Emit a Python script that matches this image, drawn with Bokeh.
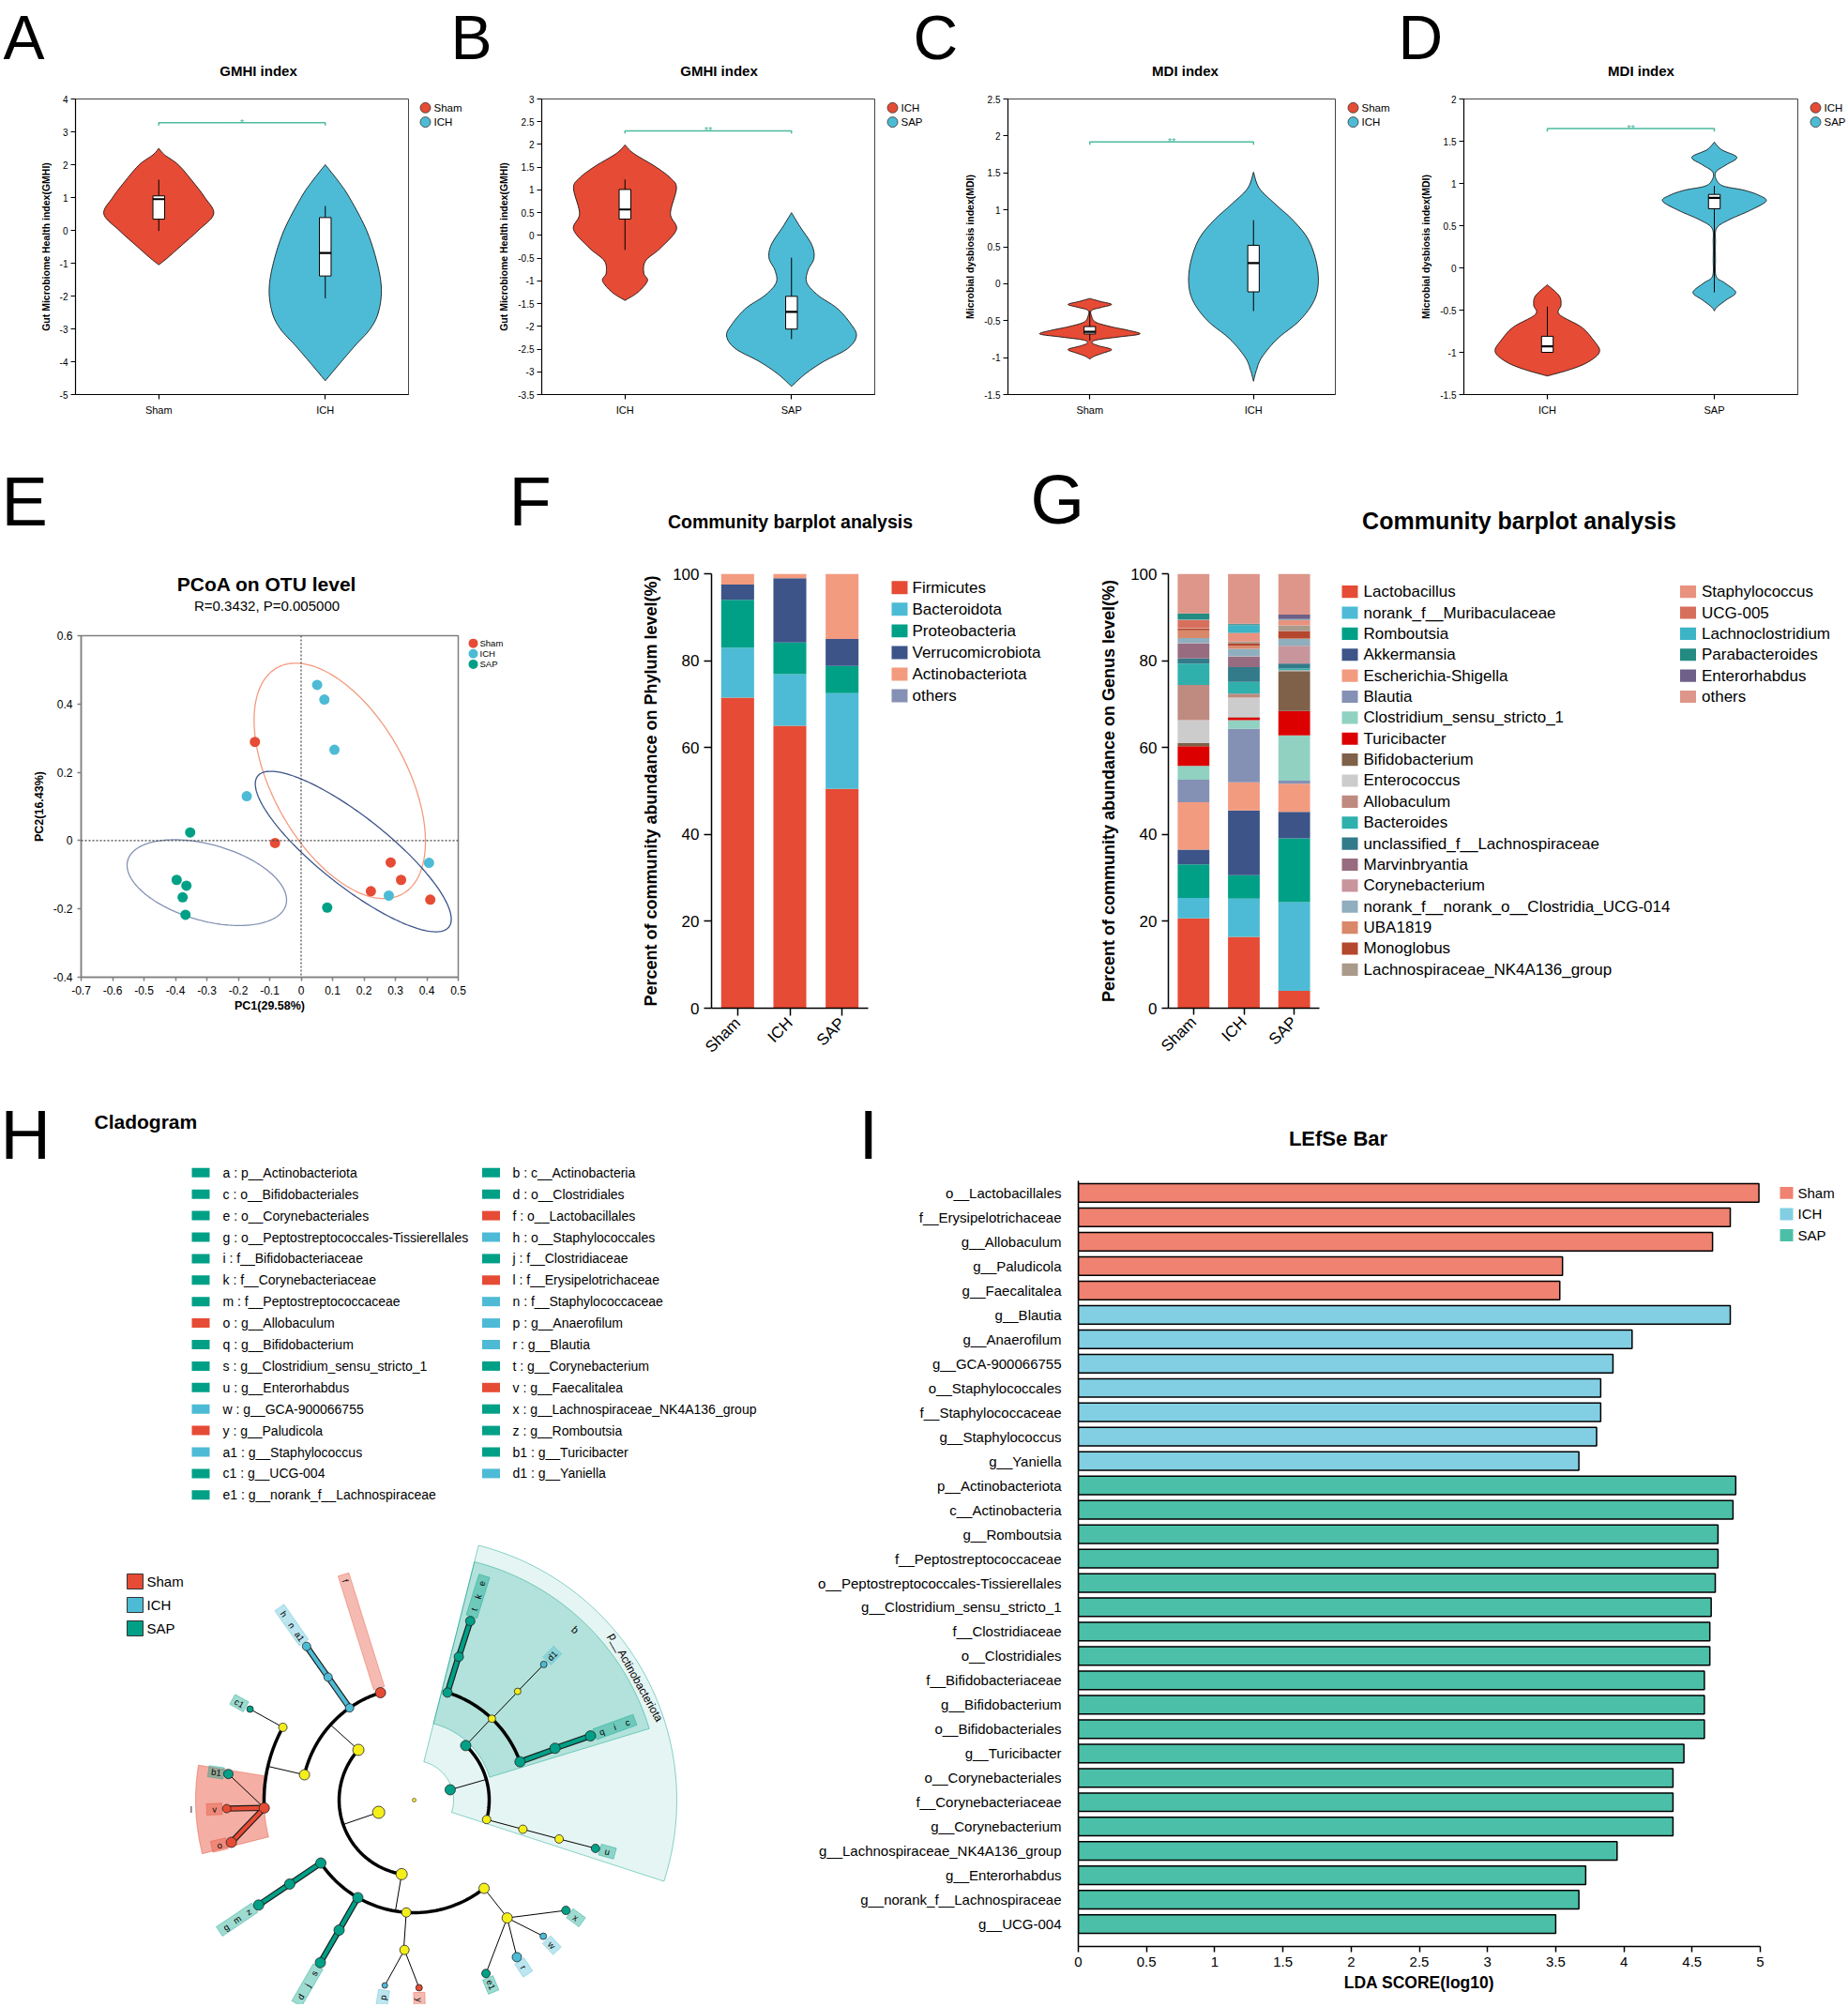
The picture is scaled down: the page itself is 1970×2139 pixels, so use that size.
import math
import numpy as np
from bokeh.plotting import figure
from bokeh.models import Range1d, FactorRange, FixedTicker, Span, ColumnDataSource
from bokeh.layouts import row, column
from bokeh.embed import file_html
from bokeh.resources import INLINE
from bokeh.core.properties import value

FONT = "Liberation Sans"
RED, BLUE, GREEN = "#E64B35", "#4DBBD5", "#00A087"
TEAL = "#4DBB9F"
YELLOW = "#F4EE1B"

# ---------------- A-D : violin data (value, half width in category units) ----------------
A_groups = ["Sham", "ICH"]
A_sham_y = [2.5, 2.3, 2.0, 1.5, 1.0, 0.5, 0.0, -0.5, -0.85, -1.05]
A_sham_w = [0, 0.035, 0.117, 0.202, 0.277, 0.33, 0.238, 0.128, 0.05, 0]
A_ich_y = [2.0, 1.5, 1.0, 0.0, -1.0, -1.8, -2.5, -3.0, -3.5, -4.0, -4.58]
A_ich_w = [0, 0.078, 0.145, 0.248, 0.312, 0.337, 0.319, 0.27, 0.181, 0.096, 0]
A_sham_box = [-0.02, 0.34, 0.95, 1.05, 1.54]   # whisker low, q1, median, q3, whisker high
A_ich_box = [-2.07, -1.39, -0.69, 0.39, 0.74]
A_sig = [3.28, "*"]

B_groups = ["ICH", "SAP"]
B_ich_y = [1.99, 1.8, 1.51, 1.25, 1.03, 0.48, 0.13, -0.28, -0.56, -0.83, -1.0, -1.25, -1.43]
B_ich_w = [0, 0.053, 0.184, 0.277, 0.309, 0.273, 0.309, 0.213, 0.124, 0.113, 0.135, 0.078, 0]
B_sap_y = [0.5, 0.2, -0.2, -0.5, -0.77, -1.04, -1.32, -1.6, -1.94, -2.21, -2.49, -2.77, -3.04, -3.32]
B_sap_w = [0, 0.05, 0.121, 0.135, 0.099, 0.092, 0.16, 0.273, 0.355, 0.39, 0.337, 0.195, 0.085, 0]
B_ich_box = [-0.32, 0.36, 0.57, 1.01, 1.23]
B_sap_box = [-2.28, -2.06, -1.68, -1.34, -0.49]
B_sig = [2.3, "**"]

C_groups = ["Sham", "ICH"]
C_sham_y = [-0.2, -0.24, -0.28, -0.32, -0.36, -0.44, -0.52, -0.58, -0.63, -0.68, -0.72, -0.76,
            -0.8, -0.84, -0.89, -0.94, -0.98, -1.02]
C_sham_w = [0, 0.065, 0.133, 0.072, 0.011, 0.011, 0.036, 0.126, 0.234, 0.306, 0.18, 0.043,
            0.014, 0.054, 0.133, 0.079, 0.029, 0]
C_ich_y = [1.51, 1.29, 1.07, 0.86, 0.61, 0.31, 0.01, -0.24, -0.5, -0.75, -1.0, -1.17, -1.32]
C_ich_w = [0, 0.036, 0.137, 0.241, 0.332, 0.382, 0.396, 0.368, 0.281, 0.144, 0.05, 0.018, 0]
C_sham_box = [-0.77, -0.68, -0.65, -0.58, -0.37]
C_ich_box = [-0.37, -0.11, 0.28, 0.52, 0.86]
C_sig = [1.92, "**"]

D_groups = ["ICH", "SAP"]
D_ich_y = [-0.2, -0.33, -0.44, -0.55, -0.7, -0.85, -0.99, -1.11, -1.2, -1.28]
D_ich_w = [0, 0.071, 0.082, 0.071, 0.203, 0.274, 0.313, 0.249, 0.142, 0]
D_sap_y = [1.49, 1.4, 1.31, 1.22, 1.14, 1.05, 0.97, 0.92, 0.86, 0.79, 0.68, 0.57, 0.47, 0.3,
           0.1, -0.1, -0.18, -0.29, -0.38, -0.46, -0.51]
D_sap_w = [0, 0.043, 0.135, 0.071, 0.011, 0.011, 0.053, 0.178, 0.267, 0.31, 0.214, 0.089,
           0.014, 0.007, 0.007, 0.011, 0.064, 0.128, 0.071, 0.018, 0]
D_ich_box = [-1.0, -1.0, -0.93, -0.81, -0.46]
D_sap_box = [-0.29, 0.70, 0.83, 0.87, 0.97]
D_sig = [1.65, "**"]

# ---------------- E : PCoA ----------------
E_sham_x = [-0.147, -0.083, 0.285, 0.318, 0.222, 0.411]
E_sham_y = [0.289, -0.007, -0.064, -0.115, -0.148, -0.173]
E_ich_x = [0.051, 0.074, 0.106, -0.173, 0.407, 0.279]
E_ich_y = [0.456, 0.413, 0.266, 0.130, -0.065, -0.161]
E_sap_x = [-0.353, -0.396, -0.365, -0.377, -0.368, 0.083]
E_sap_y = [0.024, -0.115, -0.132, -0.166, -0.217, -0.196]
E_ell_cx = [0.123, 0.166, -0.30]
E_ell_cy = [0.175, -0.032, -0.123]
E_ell_a = [0.387, 0.376, 0.26]
E_ell_b = [0.208, 0.105, 0.112]
E_ell_deg = [-57.3, -35.6, -14.0]
E_ell_col = ["#F39B7F", "#3C5488", "#8491B4"]

# ---------------- F : phylum barplot ----------------
F_groups = ["Sham", "ICH", "SAP"]
F_taxa = ["Firmicutes", "Bacteroidota", "Proteobacteria", "Verrucomicrobiota", "Actinobacteriota", "others"]
F_sham = [71.5, 11.5, 11.0, 3.5, 2.5, 0.0]
F_ich = [65.0, 11.9, 7.3, 14.8, 1.0, 0.0]
F_sap = [50.5, 22.0, 6.3, 6.2, 15.0, 0.0]
F_colors = ["#E64B35", "#4DBBD5", "#00A087", "#3C5488", "#F39B7F", "#8491B4"]

# ---------------- G : genus barplot ----------------
G_taxa = ["Lactobacillus", "norank_f__Muribaculaceae", "Romboutsia", "Akkermansia",
          "Escherichia-Shigella", "Blautia", "Clostridium_sensu_stricto_1", "Turicibacter",
          "Bifidobacterium", "Enterococcus", "Allobaculum", "Bacteroides",
          "unclassified_f__Lachnospiraceae", "Marvinbryantia", "Corynebacterium",
          "norank_f__norank_o__Clostridia_UCG-014", "UBA1819", "Monoglobus",
          "Lachnospiraceae_NK4A136_group", "Staphylococcus", "UCG-005", "Lachnoclostridium",
          "Parabacteroides", "Enterorhabdus", "others"]
G_sham = [20.7, 4.7, 7.7, 3.4, 10.9, 5.2, 3.2, 4.5, 0.7, 5.3, 8.1, 4.9, 1.2, 3.4, 0.1, 1.2,
          1.8, 0.4, 0.1, 0.1, 1.8, 0.1, 1.3, 0.1, 9.1]
G_ich = [16.4, 8.8, 5.4, 14.9, 6.5, 12.3, 2.0, 0.6, 0.1, 4.5, 0.9, 2.7, 3.4, 2.4, 0.1, 1.7,
         0.7, 0.5, 0.5, 1.9, 0.1, 1.8, 0.2, 0.1, 11.5]
G_sap = [4.0, 20.4, 14.7, 6.1, 6.5, 0.7, 10.4, 5.6, 9.2, 0.1, 0.1, 0.4, 1.1, 0.1, 4.0, 1.6,
         0.1, 1.7, 1.3, 1.2, 0.1, 0.1, 0.1, 1.0, 9.4]
G_colors = ["#E64B35", "#4DBBD5", "#00A087", "#3C5488", "#F39B7F", "#8491B4", "#91D1C2",
            "#DC0000", "#7E6148", "#CCCCCC", "#BF8A80", "#2FB0AC", "#337A8A", "#976C80",
            "#C9959D", "#8FAEBE", "#D9886A", "#B4472D", "#A99A8C", "#E9927F", "#D86F5D",
            "#3CB4C5", "#238B81", "#6E6088", "#DE968A"]

# ---------------- H : cladogram ----------------
H_leg1 = ["a : p__Actinobacteriota", "c : o__Bifidobacteriales", "e : o__Corynebacteriales",
          "g : o__Peptostreptococcales-Tissierellales", "i : f__Bifidobacteriaceae",
          "k : f__Corynebacteriaceae", "m : f__Peptostreptococcaceae", "o : g__Allobaculum",
          "q : g__Bifidobacterium", "s : g__Clostridium_sensu_stricto_1", "u : g__Enterorhabdus",
          "w : g__GCA-900066755", "y : g__Paludicola", "a1 : g__Staphylococcus",
          "c1 : g__UCG-004", "e1 : g__norank_f__Lachnospiraceae"]
H_leg1_grp = ["SAP", "SAP", "SAP", "SAP", "SAP", "SAP", "SAP", "Sham", "SAP", "SAP", "SAP",
              "ICH", "Sham", "ICH", "SAP", "SAP"]
H_leg2 = ["b : c__Actinobacteria", "d : o__Clostridiales", "f : o__Lactobacillales",
          "h : o__Staphylococcales", "j : f__Clostridiaceae", "l : f__Erysipelotrichaceae",
          "n : f__Staphylococcaceae", "p : g__Anaerofilum", "r : g__Blautia",
          "t : g__Corynebacterium", "v : g__Faecalitalea", "x : g__Lachnospiraceae_NK4A136_group",
          "z : g__Romboutsia", "b1 : g__Turicibacter", "d1 : g__Yaniella"]
H_leg2_grp = ["SAP", "SAP", "Sham", "ICH", "SAP", "Sham", "ICH", "ICH", "ICH", "SAP", "Sham",
              "SAP", "SAP", "SAP", "ICH"]
H_groups = ["Sham", "ICH", "SAP"]

CL_key = ["PF", "CBac", "OEry", "l", "b1", "v", "o", "FEryc", "c1", "h", "n", "a1", "f",
          "CClo", "g", "m", "z", "d", "j", "s", "OOsc", "FOsc", "p", "y", "OLac", "FLac",
          "x", "w", "r", "e1", "a", "b", "e", "k", "t", "OMic", "FMic", "d1", "c", "i", "q",
          "CCor", "OCor", "FEgg", "u"]
CL_parent = ["root", "PF", "CBac", "OEry", "l", "l", "l", "OEry", "FEryc", "CBac", "h", "n",
             "CBac", "PF", "CClo", "g", "m", "CClo", "d", "j", "CClo", "OOsc", "FOsc", "FOsc",
             "CClo", "OLac", "FLac", "FLac", "FLac", "FLac", "root", "a", "b", "e", "k", "b",
             "OMic", "FMic", "b", "c", "i", "a", "CCor", "OCor", "FEgg"]
CL_level = [1, 2, 3, 4, 5, 5, 5, 4, 5, 3, 4, 5, 3, 2, 3, 4, 5, 3, 4, 5, 3, 4, 5, 5, 3, 4, 5, 5,
            5, 5, 1, 2, 3, 4, 5, 3, 4, 5, 3, 4, 5, 2, 3, 4, 5]
CL_angle = [161, 222, 193, 177, 188, 177.4, 167, 209, 209, 235, 235, 235, 252.6, 99.6, 146,
            146, 146, 120, 120, 120, 94, 93.7, 99, 88.5, 51.6, 51.7, 36, 46.5, 56.8, 67.5, -16,
            -46.6, -72.8, -72.7, -72.6, -46.3, -46.4, -46.3, -19.9, -20.2, -20, 15, 15, 15, 14.9]
CL_group = ["none", "none", "none", "Sham", "SAP", "Sham", "Sham", "none", "SAP", "ICH", "ICH",
            "ICH", "Sham", "none", "SAP", "SAP", "SAP", "SAP", "SAP", "SAP", "none", "none",
            "ICH", "Sham", "none", "none", "SAP", "ICH", "ICH", "SAP", "SAP", "SAP", "SAP", "SAP",
            "SAP", "none", "none", "ICH", "SAP", "SAP", "SAP", "none", "none", "none", "SAP"]
CL_size = [13, 12, 11, 11, 10, 9, 11, 9, 7, 9, 9, 9, 11, 12, 11, 11, 11, 11, 11, 11, 10, 10, 6,
           7, 11, 11, 9, 7, 10, 9, 11, 11, 10, 10, 10, 8, 7, 7, 11, 11, 11, 9, 9, 9, 9]

# ---------------- I : LEfSe ----------------
I_names = ["o__Lactobacillales", "f__Erysipelotrichaceae", "g__Allobaculum", "g__Paludicola",
           "g__Faecalitalea", "g__Blautia", "g__Anaerofilum", "g__GCA-900066755",
           "o__Staphylococcales", "f__Staphylococcaceae", "g__Staphylococcus", "g__Yaniella",
           "p__Actinobacteriota", "c__Actinobacteria", "g__Romboutsia", "f__Peptostreptococcaceae",
           "o__Peptostreptococcales-Tissierellales", "g__Clostridium_sensu_stricto_1",
           "f__Clostridiaceae", "o__Clostridiales", "f__Bifidobacteriaceae", "g__Bifidobacterium",
           "o__Bifidobacteriales", "g__Turicibacter", "o__Corynebacteriales",
           "f__Corynebacteriaceae", "g__Corynebacterium", "g__Lachnospiraceae_NK4A136_group",
           "g__Enterorhabdus", "g__norank_f__Lachnospiraceae", "g__UCG-004"]
I_scores = [4.99, 4.78, 4.65, 3.55, 3.53, 4.78, 4.06, 3.92, 3.83, 3.83, 3.80, 3.67, 4.82, 4.80,
            4.69, 4.69, 4.67, 4.64, 4.63, 4.63, 4.59, 4.59, 4.59, 4.44, 4.36, 4.36, 4.36, 3.95,
            3.72, 3.67, 3.50]
I_groups = ["Sham"] * 5 + ["ICH"] * 7 + ["SAP"] * 19
I_colors = {"Sham": "#EF8270", "ICH": "#82CFE3", "SAP": "#4BBFA8"}

GROUP_COL = {"Sham": RED, "ICH": BLUE, "SAP": GREEN}


# ======================= helpers =======================
def catmull(ys, ws, n=10):
    pts = np.column_stack([ys, ws]).astype(float)
    P = np.vstack([pts[:1], pts, pts[-1:]])
    out = []
    for i in range(1, len(P) - 2):
        p0, p1, p2, p3 = P[i - 1], P[i], P[i + 1], P[i + 2]
        for t in np.linspace(0, 1, n, endpoint=False):
            out.append(0.5 * (2 * p1 + (-p0 + p2) * t + (2 * p0 - 5 * p1 + 4 * p2 - p3) * t * t
                              + (-p0 + 3 * p1 - 3 * p2 + p3) * t ** 3))
    out.append(pts[-1])
    out = np.array(out)
    out[:, 1] = np.clip(out[:, 1], 0, None)
    return out[:, 0], out[:, 1]


def chart_fig(x0, x1, y0, y1, frame, **kw):
    L, R, T_, B = frame
    p = figure(width=int(x1 - x0), height=int(y1 - y0),
               min_border_left=int(round(L - x0)), min_border_right=int(round(x1 - R)),
               min_border_top=int(round(T_ - y0)), min_border_bottom=int(round(y1 - B)),
               output_backend="svg", toolbar_location=None, **kw)
    p.xgrid.visible = False
    p.ygrid.visible = False
    p.border_fill_color = "white"
    p.background_fill_color = "white"
    return p


def aux_fig(x0, x1, y0, y1):
    p = figure(width=int(x1 - x0), height=int(y1 - y0), x_range=Range1d(x0, x1),
               y_range=Range1d(y1, y0), min_border=0, x_axis_location=None,
               y_axis_location=None, output_backend="svg", toolbar_location=None)
    p.xgrid.visible = False
    p.ygrid.visible = False
    p.outline_line_color = None
    p.border_fill_color = "white"
    p.background_fill_color = "white"
    return p


def T(p, x, y, text, size, bold=False, align="left", baseline="middle", angle=0.0, color="black"):
    p.text(x=[x], y=[y], text=[text], angle=[angle], text_font=value(FONT),
           text_font_size=value(f"{size}px"), text_font_style="bold" if bold else "normal",
           text_align=align, text_baseline=baseline, text_color=color)


def letter(p, x, ink_top, text, size=72):
    # vertically centred panel letter; the capital's top lies 0.3695 em above the middle
    T(p, x, ink_top + 0.3695 * size, text, size)


def style_axes(p, tick_size, label_size, color="black", lw=1.2, tick_out=5):
    for ax in list(p.xaxis) + list(p.yaxis):
        ax.axis_line_color = color
        ax.axis_line_width = lw
        ax.major_tick_line_color = color
        ax.major_tick_line_width = lw
        ax.major_tick_in = 0
        ax.major_tick_out = tick_out
        ax.minor_tick_line_color = None
        ax.major_label_text_font = FONT
        ax.major_label_text_font_size = f"{tick_size}px"
        ax.major_label_text_color = "black"
        ax.axis_label_text_font = FONT
        ax.axis_label_text_font_size = f"{label_size}px"
        ax.axis_label_text_font_style = "bold"
        ax.axis_label_text_color = "black"


def fmt(v):
    return "0" if abs(v) < 1e-9 else f"{v:g}"


# ======================= Row 1 : A-D =======================
strip1 = aux_fig(0, 1970, 0, 97)
violin_specs = [
    dict(cx=(0, 445), leg=(445, 500), frame=(80, 435, 105, 420), yr=(-5, 4), step=1.0, groups=A_groups,
         ys=[A_sham_y, A_ich_y], ws=[A_sham_w, A_ich_w], boxes=[A_sham_box, A_ich_box],
         sig=A_sig, drop=0.09, title="GMHI index", tx=275, ylabel="Gut Microbiome Health index(GMHI)",
         letter="A", lx=3, legx=453),
    dict(cx=(500, 942), leg=(942, 1000), frame=(577, 932, 105, 420), yr=(-3.5, 3), step=0.5, groups=B_groups,
         ys=[B_ich_y, B_sap_y], ws=[B_ich_w, B_sap_w], boxes=[B_ich_box, B_sap_box],
         sig=B_sig, drop=0.06, title="GMHI index", tx=766, ylabel="Gut Microbiome Health index(GMHI)",
         letter="B", lx=480, legx=951),
    dict(cx=(1000, 1433), leg=(1433, 1500), frame=(1074, 1423, 105, 420), yr=(-1.5, 2.5), step=0.5,
         groups=C_groups, ys=[C_sham_y, C_ich_y], ws=[C_sham_w, C_ich_w], boxes=[C_sham_box, C_ich_box],
         sig=C_sig, drop=0.04, title="MDI index", tx=1263, ylabel="Microbial dysbiosis index(MDI)",
         letter="C", lx=973, legx=1442),
    dict(cx=(1500, 1926), leg=(1926, 1970), frame=(1560, 1916, 105, 420), yr=(-1.5, 2), step=0.5,
         groups=D_groups, ys=[D_ich_y, D_sap_y], ws=[D_ich_w, D_sap_w], boxes=[D_ich_box, D_sap_box],
         sig=D_sig, drop=0.035, title="MDI index", tx=1749, ylabel="Microbial dysbiosis index(MDI)",
         letter="D", lx=1490, legx=1935),
]

row1_figs = []
for s in violin_specs:
    p = chart_fig(s["cx"][0], s["cx"][1], 97, 468, s["frame"], x_range=Range1d(0.5, 2.5),
                  y_range=Range1d(*s["yr"]))
    cols = [RED, BLUE]
    for i in range(2):
        c = i + 1
        yy, ww = catmull(s["ys"][i], s["ws"][i])
        p.patch(np.concatenate([c + ww, (c - ww)[::-1]]), np.concatenate([yy, yy[::-1]]),
                fill_color=cols[i], line_color="black", line_width=0.8)
        wl, q1, med, q3, wh = s["boxes"][i]
        p.segment(x0=[c, c], y0=[wl, q3], x1=[c, c], y1=[q1, wh], line_color="black", line_width=1)
        p.quad(left=[c - 0.035], right=[c + 0.035], bottom=[q1], top=[q3], fill_color="white",
               line_color="black", line_width=1)
        p.segment(x0=[c - 0.035], y0=[med], x1=[c + 0.035], y1=[med], line_color="black", line_width=2.2)
    lvl, star = s["sig"]
    p.line([1, 1, 2, 2], [lvl - s["drop"], lvl, lvl, lvl - s["drop"]], line_color=TEAL, line_width=1.5)
    p.text(x=[1.5], y=[lvl], text=[star], text_font=value(FONT), text_font_size="11px",
           text_color=TEAL, text_align="center", text_baseline="middle")
    lo, hi = s["yr"]
    nt = int(round((hi - lo) / s["step"]))
    yt = [round(lo + k * s["step"], 2) for k in range(nt + 1)]
    p.yaxis.ticker = FixedTicker(ticks=yt)
    p.yaxis.major_label_overrides = {v: fmt(v) for v in yt}
    p.xaxis.ticker = FixedTicker(ticks=[1, 2])
    p.xaxis.major_label_overrides = {1: s["groups"][0], 2: s["groups"][1]}
    p.yaxis.axis_label = s["ylabel"]
    style_axes(p, 10, 10.5, lw=1.2, tick_out=5)
    p.xaxis.major_label_text_font_size = "11px"
    p.yaxis.axis_label_standoff = 6
    p.yaxis.major_label_standoff = 3
    p.outline_line_color = "#444444"
    p.outline_line_width = 1
    T(strip1, s["tx"], 75, s["title"], 15, bold=True, align="center")
    letter(strip1, s["lx"], 15.6, s["letter"], 66)
    lg = aux_fig(s["leg"][0], s["leg"][1], 97, 468)
    for i in range(2):
        lg.scatter([s["legx"]], [108 + 18 * i], size=11, fill_color=cols[i], line_color="#333333",
                   line_width=0.8)
        T(lg, s["legx"] + 9, 108 + 18 * i, s["groups"][i], 11.5)
    row1_figs += [p, lg]

row1 = column(strip1, row(*row1_figs))

# ======================= Row 2 strip (letters E, F, G and titles of F, G) =======================
strip2 = aux_fig(0, 1970, 468, 594)
letter(strip2, 1, 507, "E", 74)
letter(strip2, 542, 507, "F", 74)
letter(strip2, 1098, 505, "G", 74)
T(strip2, 842, 555, "Community barplot analysis", 19.5, bold=True, align="center")
T(strip2, 1619, 554, "Community barplot analysis", 25, bold=True, align="center")

# ======================= E =======================
frE = (86, 488, 677, 1041)
topE = aux_fig(0, 545, 594, 669)
T(topE, 284, 622, "PCoA on OTU level", 21, bold=True, align="center")
T(topE, 284, 645, "R=0.3432, P=0.005000", 15, align="center")
pE = chart_fig(0, 498, 669, 1160, frE, x_range=Range1d(-0.7, 0.5), y_range=Range1d(-0.4, 0.6))
for k in range(3):
    t = np.linspace(0, 2 * np.pi, 240)
    th = math.radians(E_ell_deg[k])
    ex = E_ell_cx[k] + E_ell_a[k] * np.cos(t) * math.cos(th) - E_ell_b[k] * np.sin(t) * math.sin(th)
    ey = E_ell_cy[k] + E_ell_a[k] * np.cos(t) * math.sin(th) + E_ell_b[k] * np.sin(t) * math.cos(th)
    pE.line(ex, ey, line_color=E_ell_col[k], line_width=1.3)
pE.add_layout(Span(location=0, dimension="height", line_dash="2 2", line_color="#444444", line_width=1.2))
pE.add_layout(Span(location=0, dimension="width", line_dash="2 2", line_color="#444444", line_width=1.2))
for xs, ys, col in [(E_sham_x, E_sham_y, RED), (E_ich_x, E_ich_y, BLUE), (E_sap_x, E_sap_y, GREEN)]:
    pE.scatter(xs, ys, size=11, fill_color=col, line_color=None)
xt = [round(-0.7 + 0.1 * k, 1) for k in range(13)]
ytE = [round(-0.4 + 0.2 * k, 1) for k in range(6)]
pE.xaxis.ticker = FixedTicker(ticks=xt)
pE.xaxis.major_label_overrides = {v: fmt(v) for v in xt}
pE.yaxis.ticker = FixedTicker(ticks=ytE)
pE.yaxis.major_label_overrides = {v: fmt(v) for v in ytE}
pE.xaxis.axis_label = "PC1(29.58%)"
pE.yaxis.axis_label = "PC2(16.43%)"
style_axes(pE, 12, 12.5, color="#7F7F7F", lw=1.5, tick_out=4)
pE.xaxis.axis_label_standoff = 2
pE.outline_line_color = "#7F7F7F"
pE.outline_line_width = 1.5
legE = aux_fig(498, 545, 669, 1160)
for k, (g, col) in enumerate(zip(H_groups, [RED, BLUE, GREEN])):
    legE.scatter([504], [680 + 15 * k], size=10, fill_color=col, line_color=None)
    T(legE, 511, 680 + 15 * k, g, 9.5)
colE = column(topE, row(pE, legE))

# ======================= F =======================
frF = (758, 925, 606, 1080)
pF = chart_fig(545, 935, 594, 1160, frF, x_range=FactorRange(factors=F_groups), y_range=Range1d(0, 100))
srcF = ColumnDataSource(dict(group=F_groups, **{t: [F_sham[i], F_ich[i], F_sap[i]] for i, t in enumerate(F_taxa)}))
pF.vbar_stack(F_taxa, x="group", width=0.63, color=F_colors, source=srcF, line_width=0)
pF.yaxis.ticker = FixedTicker(ticks=[0, 20, 40, 60, 80, 100])
pF.yaxis.axis_label = "Percent of community abundance on Phylum level(%)"
style_axes(pF, 17, 18, lw=1.5, tick_out=8)
pF.xaxis.major_label_orientation = math.pi / 4
pF.yaxis.axis_label_standoff = 10
pF.outline_line_color = None
legF = aux_fig(935, 1120, 594, 1160)
yF = [612 + 28.2 * i for i in range(len(F_taxa))]
legF.rect(x=[958.5] * len(yF), y=yF, width=17, height=17, fill_color=F_colors, line_color=None)
for i, t in enumerate(F_taxa):
    T(legF, 972, yF[i], t, 17)

# ======================= G =======================
frG = (1245, 1406, 611, 1073.5)
pG = chart_fig(1120, 1416, 594, 1160, frG, x_range=FactorRange(factors=F_groups), y_range=Range1d(0, 100))
srcG = ColumnDataSource(dict(group=F_groups, **{t: [G_sham[i], G_ich[i], G_sap[i]] for i, t in enumerate(G_taxa)}))
pG.vbar_stack(G_taxa, x="group", width=0.63, color=G_colors, source=srcG, line_width=0)
pG.yaxis.ticker = FixedTicker(ticks=[0, 20, 40, 60, 80, 100])
pG.yaxis.axis_label = "Percent of community abundance on Genus level(%)"
style_axes(pG, 17, 18, lw=1.5, tick_out=7)
pG.xaxis.major_label_orientation = math.pi / 4
pG.yaxis.axis_label_standoff = 10
pG.outline_line_color = None
legG = aux_fig(1416, 1970, 594, 1160)
gx = [1438.5 if i < 19 else 1799 for i in range(len(G_taxa))]
gyv = [617.4 + 27.35 * (i if i < 19 else i - 19) for i in range(len(G_taxa))]
legG.rect(x=gx, y=gyv, width=17, height=16, fill_color=G_colors, line_color=None)
for i, t in enumerate(G_taxa):
    T(legG, gx[i] + 14.5, gyv[i], t, 17)

row2 = column(strip2, row(colE, pF, legF, pG, legG))

# ======================= H =======================
pH = aux_fig(0, 860, 1160, 2136)
letter(pH, 0, 1182, "H", 74)
T(pH, 100, 1195, "Cladogram", 21, bold=True)

for col_items, col_grp, rx, tx in [(H_leg1, H_leg1_grp, 213.5, 237), (H_leg2, H_leg2_grp, 523, 546)]:
    yy = [1249.3 + 22.9 * k for k in range(len(col_items))]
    pH.rect(x=[rx] * len(yy), y=yy, width=19, height=10, fill_color=[GROUP_COL[g] for g in col_grp],
            line_color=None)
    pH.text(x=[tx] * len(yy), y=yy, text=col_items, text_font=value(FONT), text_font_size="14px",
            text_baseline="middle", text_align="left")

gy = [1685, 1710, 1735]
pH.rect(x=[143.5] * 3, y=gy, width=17, height=16, fill_color=[GROUP_COL[g] for g in H_groups],
        line_color="#333333", line_width=1)
pH.text(x=[156] * 3, y=gy, text=H_groups, text_font=value(FONT), text_font_size="15px",
        text_baseline="middle", text_align="left")

CX, CY = 441.0, 1918.0
node = {k: dict(parent=CL_parent[i], level=CL_level[i], angle=CL_angle[i], group=CL_group[i],
                size=CL_size[i]) for i, k in enumerate(CL_key)}
children = {}
for k in CL_key:
    children.setdefault(node[k]["parent"], []).append(k)


def pol(r, deg):
    th = math.radians(deg)
    return CX + r * math.cos(th), CY + r * math.sin(th)


def arc_pts(r, a0, a1, n=60):
    angs = np.linspace(a0, a1, n)
    return [pol(r, a)[0] for a in angs], [pol(r, a)[1] for a in angs]


def sector_poly(r0, r1, a0, a1):
    xo, yo = arc_pts(r1, a0, a1)
    xi, yi = arc_pts(r0, a1, a0)
    return xo + xi, yo + yi


def descendants(k):
    out = []
    for c in children.get(k, []):
        out.append(c)
        out += descendants(c)
    return out


sec_inner = {1: 42, 2: 84, 4: 160}
sec_outer = {1: 280, 2: 262, 4: 233}
sec_pad = {1: 3.0, 2: 3.0, 4: 1.2}
sec_alpha = {1: 0.10, 2: 0.22, 4: 0.45}
for k in CL_key:
    nd = node[k]
    if nd["group"] != "none" and len(children.get(k, [])) > 1:
        angs = [node[d]["angle"] for d in descendants(k)]
        lv = nd["level"]
        xs, ys = sector_poly(sec_inner[lv], sec_outer[lv], min(angs) - sec_pad[lv], max(angs) + sec_pad[lv])
        col = GROUP_COL[nd["group"]]
        pH.patch(xs, ys, fill_color=col, fill_alpha=sec_alpha[lv], line_color=col, line_alpha=0.45,
                 line_width=1)

band_xs, band_ys, band_cols = [], [], []
lab_x, lab_y, lab_t, lab_a = [], [], [], []


def rot_for(deg):
    d = ((deg + 180) % 360) - 180
    if d > 90 or d < -90:
        d = d - 180
    return -math.radians(d)


def add_band(deg, r0, r1, group, hw=6.0):
    th = math.radians(deg)
    tx, ty = -math.sin(th), math.cos(th)
    p0 = pol(r0, deg)
    p1 = pol(r1, deg)
    band_xs.append([p0[0] + hw * tx, p1[0] + hw * tx, p1[0] - hw * tx, p0[0] - hw * tx])
    band_ys.append([p0[1] + hw * ty, p1[1] + hw * ty, p1[1] - hw * ty, p0[1] - hw * ty])
    band_cols.append(GROUP_COL[group])


def add_lab(text, r, deg):
    x, y = pol(r, deg)
    lab_x.append(x)
    lab_y.append(y)
    lab_t.append(text)
    lab_a.append(rot_for(deg))


for k in CL_key:
    nd = node[k]
    if nd["group"] == "none":
        continue
    kids = children.get(k, [])
    if nd["level"] == 5:
        chain = [k]
        cur = k
        while True:
            par = node[cur]["parent"]
            if par == "root" or node[par]["group"] != nd["group"] or len(children.get(par, [])) != 1:
                break
            chain.append(par)
            cur = par
        add_band(nd["angle"], 205, 207 + 14.5 * len(chain), nd["group"])
        for j, ck in enumerate(chain):
            add_lab(ck, 213 + 14.5 * j, nd["angle"])
    elif len(kids) == 0:
        add_band(nd["angle"], 40 * nd["level"] + 5, 252, nd["group"])
        add_lab(k, 245, nd["angle"])

pH.patches(band_xs, band_ys, fill_color=band_cols, fill_alpha=0.38, line_color=band_cols,
           line_alpha=0.5, line_width=0.8)

thin_x, thin_y, arc_x, arc_y = [], [], [], []
col_lines = {"Sham": ([], []), "ICH": ([], []), "SAP": ([], [])}
for par, kids in children.items():
    if par == "root":
        continue
    P = node[par]
    rp = 40 * P["level"]
    if P["level"] <= 3:
        rc = rp + 40
        a = pol(rp, P["angle"])
        b = pol(rc, P["angle"])
        same = P["group"] != "none" and all(node[c]["group"] == P["group"] for c in kids)
        if same:
            col_lines[P["group"]][0].append([a[0], b[0]])
            col_lines[P["group"]][1].append([a[1], b[1]])
        else:
            thin_x.append([a[0], b[0]])
            thin_y.append([a[1], b[1]])
        angs = [node[c]["angle"] for c in kids] + [P["angle"]]
        if max(angs) - min(angs) > 0.5:
            xs, ys = arc_pts(rc, min(angs), max(angs))
            arc_x.append(xs)
            arc_y.append(ys)
    else:
        for c in kids:
            C = node[c]
            a = pol(rp, P["angle"])
            b = pol(40 * C["level"], C["angle"])
            if P["group"] != "none" and C["group"] == P["group"]:
                col_lines[P["group"]][0].append([a[0], b[0]])
                col_lines[P["group"]][1].append([a[1], b[1]])
            else:
                thin_x.append([a[0], b[0]])
                thin_y.append([a[1], b[1]])

pH.multi_line(thin_x, thin_y, line_color="black", line_width=1)
pH.multi_line(arc_x, arc_y, line_color="black", line_width=3.5)
for g, (xs, ys) in col_lines.items():
    if xs:
        pH.multi_line(xs, ys, line_color="#1a1a1a", line_width=6.5)
        pH.multi_line(xs, ys, line_color=GROUP_COL[g], line_width=4.2)

nx = [pol(40 * node[k]["level"], node[k]["angle"])[0] for k in CL_key]
ny = [pol(40 * node[k]["level"], node[k]["angle"])[1] for k in CL_key]
ncol = [GROUP_COL[node[k]["group"]] if node[k]["group"] != "none" else YELLOW for k in CL_key]
pH.scatter(nx, ny, size=CL_size, fill_color=ncol, line_color="#222222", line_width=0.8)
pH.scatter([CX], [CY], size=4, fill_color=YELLOW, line_color="#555555", line_width=0.8)

pH.text(x=lab_x, y=lab_y, text=lab_t, angle=lab_a, text_font=value(FONT), text_font_size="9.5px",
        text_align="center", text_baseline="middle")
lx_, ly_ = pol(238, 177.5)
T(pH, lx_, ly_, "l", 9.5, align="center")
bx, by = pol(250, -46.6)
T(pH, bx, by, "b", 11, align="center", angle=rot_for(-46.6) - math.pi / 2)
ax_, ay_ = pol(270, -29)
T(pH, ax_, ay_, "p__Actinobacteriota", 12, align="center", angle=-math.radians(61))

# ======================= I =======================
frI = (1149, 1876, 1258, 2074)
topI = aux_fig(860, 1970, 1160, 1250)
letter(topI, 915, 1182, "I", 74)
T(topI, 1426, 1213, "LEfSe Bar", 22, bold=True, align="center")
pI = chart_fig(860, 1886, 1250, 2136, frI, x_range=Range1d(0, 5), y_range=Range1d(31.42, 0))
ypos = [i + 0.5 for i in range(len(I_names))]
srcI = ColumnDataSource(dict(y=ypos, right=I_scores, color=[I_colors[g] for g in I_groups]))
pI.hbar(y="y", right="right", left=0, height=0.76, fill_color="color", line_color="black",
        line_width=1.5, source=srcI)
pI.yaxis.ticker = FixedTicker(ticks=ypos)
pI.yaxis.major_label_overrides = {v: n for v, n in zip(ypos, I_names)}
xtI = [k * 0.5 for k in range(11)]
pI.xaxis.ticker = FixedTicker(ticks=xtI)
pI.xaxis.major_label_overrides = {v: fmt(v) for v in xtI}
pI.xaxis.axis_label = "LDA SCORE(log10)"
style_axes(pI, 15, 17.5, lw=1.5, tick_out=6)
pI.yaxis.major_tick_line_color = None
pI.yaxis.major_label_text_font_size = "15px"
pI.yaxis.major_label_standoff = 12
pI.xaxis.axis_label_standoff = 4
pI.outline_line_color = None
legI = aux_fig(1886, 1970, 1250, 2136)
yI = [1264 + 24.5 * k for k in range(3)]
legI.rect(x=[1904] * 3, y=yI, width=14, height=14, fill_color=[I_colors[g] for g in H_groups],
          line_color=None)
for k, g in enumerate(H_groups):
    T(legI, 1916, yI[k], g, 15)
colI = column(topI, row(pI, legI))

row3 = row(pH, colI)

layout = column(row1, row2, row3)
open("out.html", "w").write(file_html(layout, INLINE))
